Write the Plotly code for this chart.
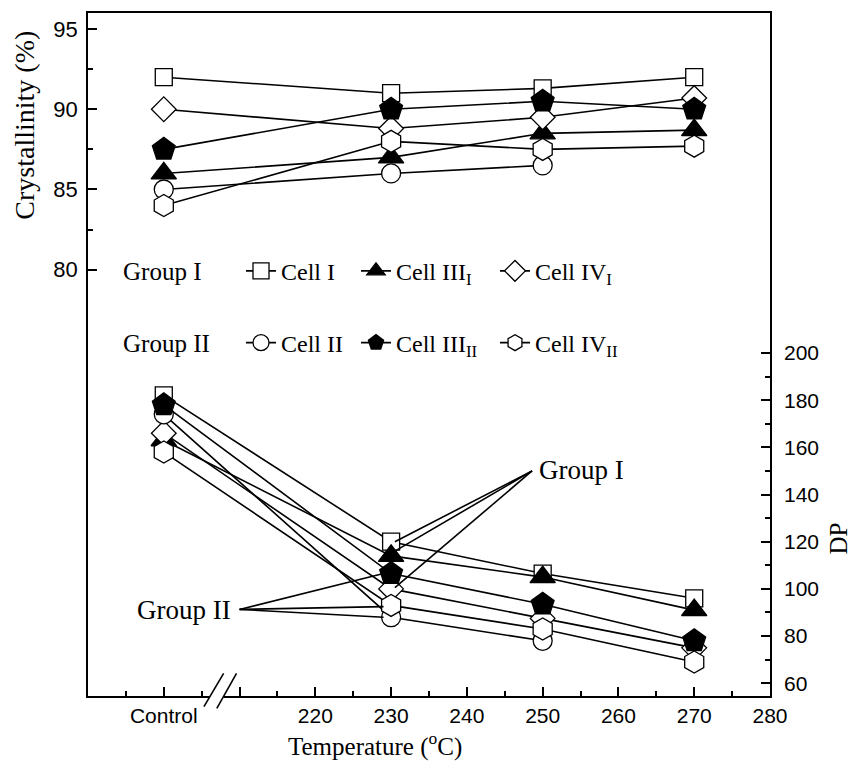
import plotly.graph_objects as go

# ---------------- data ----------------
temps = [200, 230, 250, 270]          # 200 = "Control"
temps_cell2 = [200, 230, 250]

cryst_cell1 = [92.0, 91.0, 91.3, 92.0]
cryst_cell3_1 = [86.0, 87.0, 88.5, 88.7]
cryst_cell4_1 = [90.0, 88.8, 89.5, 90.7]
cryst_cell2 = [85.0, 86.0, 86.5]
cryst_cell3_2 = [87.5, 90.0, 90.5, 90.0]
cryst_cell4_2 = [84.0, 88.0, 87.5, 87.7]

dp_cell1 = [182, 120, 106.5, 96]
dp_cell3_1 = [163, 114, 105, 91]
dp_cell4_1 = [166, 100, 87.5, 75]
dp_cell2 = [174, 88, 78]
dp_cell3_2 = [178, 106.5, 93.5, 78]
dp_cell4_2 = [158, 93, 83, 69]

x_tickvals = [200, 210, 220, 230, 240, 250, 260, 270, 280]
x_ticktext = ["Control", "", "220", "230", "240", "250", "260", "270", "280"]
y_tickvals = [80, 85, 90, 95]
y_minor = [82.5, 87.5, 92.5]
y2_tickvals = [60, 80, 100, 120, 140, 160, 180, 200]
y2_minor = [70, 90, 110, 130, 150, 170, 190]

names = ["Cell I", "Cell III<sub>I</sub>", "Cell IV<sub>I</sub>",
         "Cell II", "Cell III<sub>II</sub>", "Cell IV<sub>II</sub>"]

SERIF = "Liberation Serif, Times New Roman, serif"
SANS = "Liberation Sans, Arial, sans-serif"

# marker styles: (symbol, fill, size)
styles = [
    ("square", "white", 17),
    ("triangle-up", "black", 22),
    ("diamond", "white", 19),
    ("circle", "white", 19),
    ("pentagon", "black", 24),
    ("hexagon", "white", 22),
]

cryst = [cryst_cell1, cryst_cell3_1, cryst_cell4_1, cryst_cell2, cryst_cell3_2, cryst_cell4_2]
dps = [dp_cell1, dp_cell3_1, dp_cell4_1, dp_cell2, dp_cell3_2, dp_cell4_2]
xs = [temps, temps, temps, temps_cell2, temps, temps]
legend_ids = ["legend", "legend2", "legend3", "legend4", "legend5", "legend6"]

fig = go.Figure()
for i in range(6):
    sym, fill, size = styles[i]
    mk = dict(symbol=sym, color=fill, size=size, line=dict(color="black", width=1.3))
    fig.add_trace(go.Scatter(
        x=xs[i], y=cryst[i], mode="lines+markers", name=names[i],
        line=dict(color="black", width=1.6), marker=mk,
        legend=legend_ids[i], legendgroup=str(i), showlegend=True, yaxis="y"))
    fig.add_trace(go.Scatter(
        x=xs[i], y=dps[i], mode="lines+markers", name=names[i],
        line=dict(color="black", width=1.6), marker=mk,
        legendgroup=str(i), showlegend=False, yaxis="y2"))

# plot geometry (px)
L, R, T, B = 88, 770, 11, 696
W, H = R - L, B - T

def px_x(p):
    return (p - L) / W

def px_y(p):
    return (B - p) / H

leg_common = dict(orientation="v", bgcolor="rgba(0,0,0,0)", borderwidth=0,
                  font=dict(family=SERIF, size=24, color="black"),
                  xanchor="left", yanchor="middle", itemclick=False)
leg_pos = [(241, 270), (356, 270), (495, 270), (241, 342), (356, 342), (495, 342)]
legend_layout = {}
for lid, (lx, ly) in zip(legend_ids, leg_pos):
    legend_layout[lid] = dict(leg_common, x=px_x(lx), y=px_y(ly))

annotations = [
    dict(text="Group I", x=px_x(121), y=px_y(270), xref="paper", yref="paper",
         xanchor="left", yanchor="middle", showarrow=False,
         font=dict(family=SERIF, size=25, color="black")),
    dict(text="Group II", x=px_x(121), y=px_y(342), xref="paper", yref="paper",
         xanchor="left", yanchor="middle", showarrow=False,
         font=dict(family=SERIF, size=25, color="black")),
    dict(text="Group I", x=249.3, y=150.5, xref="x", yref="y2",
         xanchor="left", yanchor="middle", showarrow=False,
         font=dict(family=SERIF, size=27, color="black")),
    dict(text="Group II", x=209.2, y=91, xref="x", yref="y2",
         xanchor="right", yanchor="middle", showarrow=False,
         font=dict(family=SERIF, size=27, color="black")),
    dict(text="Crystallinity (%)", x=px_x(25), y=px_y(124), xref="paper", yref="paper",
         textangle=-90, showarrow=False, xanchor="center", yanchor="middle",
         font=dict(family=SERIF, size=28, color="black")),
    dict(text="DP", x=px_x(838), y=px_y(538), xref="paper", yref="paper",
         textangle=-90, showarrow=False, xanchor="center", yanchor="middle",
         font=dict(family=SERIF, size=25, color="black")),
    dict(text="Temperature (<sup>o</sup>C)", x=px_x(375), y=px_y(745), xref="paper", yref="paper",
         showarrow=False, xanchor="center", yanchor="middle",
         font=dict(family=SERIF, size=25, color="black")),
]

shapes = []
# pointer lines, Group I -> 230 points of Cell I, III_I, IV_I
for arr, dy in [(dp_cell1, 0), (dp_cell3_1, 2), (dp_cell4_1, 0.5)]:
    shapes.append(dict(type="line", xref="x", yref="y2", x0=248.6, y0=150,
                       x1=temps[1] + 0.5, y1=arr[1] + dy, line=dict(color="black", width=1.6)))
# Group II -> 230 points of Cell III_II, IV_II, II
for arr, dy in [(dp_cell3_2, 0), (dp_cell4_2, -0.5), (dp_cell2, 0)]:
    shapes.append(dict(type="line", xref="x", yref="y2", x0=210, y0=91.3,
                       x1=temps[1] - 1, y1=arr[1] + dy, line=dict(color="black", width=1.6)))
# axis break on x axis
shapes.append(dict(type="rect", xref="x", yref="paper", x0=206.1, x1=207.9,
                   y0=-0.006, y1=0.006, fillcolor="white", line=dict(width=0), layer="above"))
shapes.append(dict(type="line", xref="x", yref="paper", x0=205.3, y0=-0.0156, x1=207.9, y1=0.033,
                   line=dict(color="black", width=1.6), layer="above"))
shapes.append(dict(type="line", xref="x", yref="paper", x0=207.0, y0=-0.018, x1=209.6, y1=0.033,
                   line=dict(color="black", width=1.6), layer="above"))

fig.update_layout(
    width=854, height=777,
    margin=dict(l=L, r=854 - R, t=T, b=777 - B, pad=0),
    paper_bgcolor="white", plot_bgcolor="white",
    font=dict(family=SANS, color="black"),
    xaxis=dict(range=[190, 280], tickmode="array", tickvals=x_tickvals, ticktext=x_ticktext,
               ticks="inside", ticklen=9, tickwidth=1.5, tickcolor="black",
               minor=dict(dtick=5, tick0=195, ticks="inside", ticklen=5, tickwidth=1.5, tickcolor="black"),
               showline=True, linecolor="black", linewidth=1.6, mirror=True,
               showgrid=False, zeroline=False, tickfont=dict(family=SANS, size=21, color="black")),
    yaxis=dict(range=[53.43, 96], tickmode="array", tickvals=y_tickvals,
               ticks="inside", ticklen=9, tickwidth=1.5, tickcolor="black",
               minor=dict(tickmode="array", tickvals=y_minor, ticks="inside", ticklen=5,
                          tickwidth=1.5, tickcolor="black"),
               showline=True, linecolor="black", linewidth=1.6, ticklabelstandoff=4,
               showgrid=False, zeroline=False, tickfont=dict(family=SANS, size=22, color="black")),
    yaxis2=dict(range=[54.6, 344.1], overlaying="y", side="right", tickmode="array",
                tickvals=y2_tickvals, ticks="inside", ticklen=9, tickwidth=1.5, tickcolor="black",
                minor=dict(tickmode="array", tickvals=y2_minor, ticks="inside", ticklen=5,
                           tickwidth=1.5, tickcolor="black"),
                showline=True, linecolor="black", linewidth=1.6, ticklabelstandoff=8,
                showgrid=False, zeroline=False, tickfont=dict(family=SANS, size=21, color="black")),
    annotations=annotations,
    shapes=shapes,
    **legend_layout,
)

fig.write_html("out.html")
